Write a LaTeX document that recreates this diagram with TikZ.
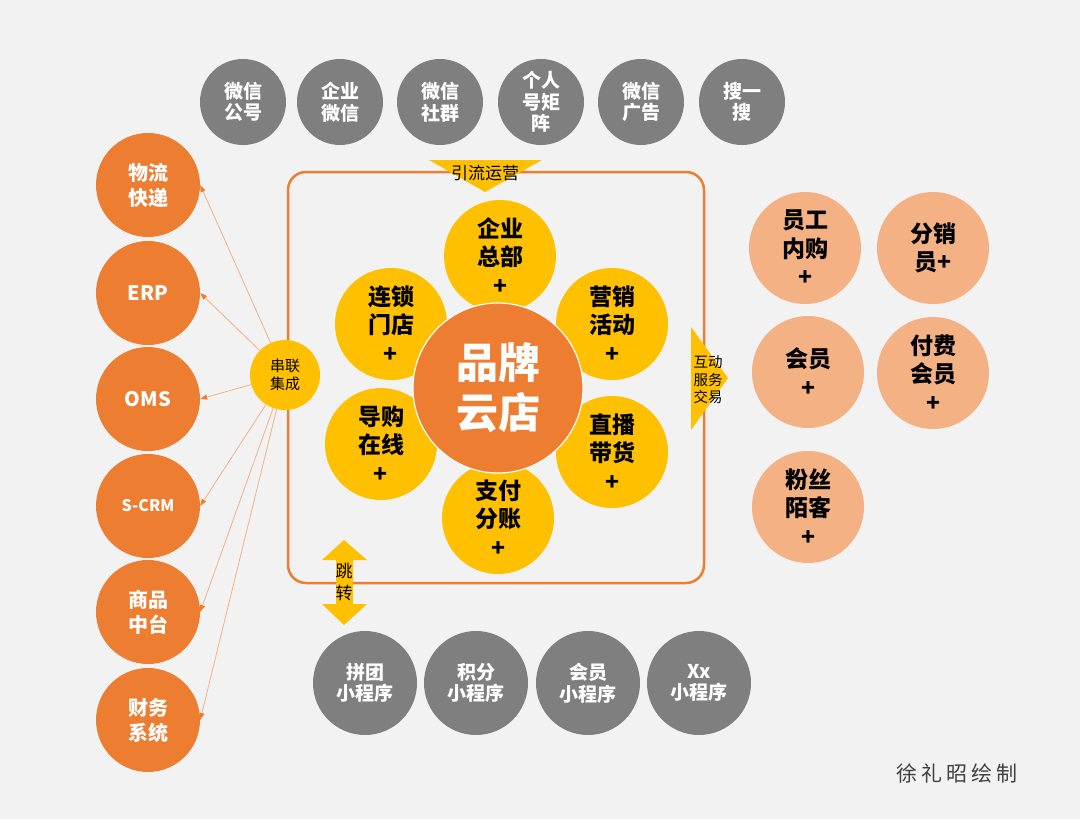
\documentclass[tikz,border=0pt]{standalone}
\usepackage{fontspec}
\setmainfont{Noto Sans CJK SC}
\usetikzlibrary{arrows.meta}
\definecolor{naranja}{HTML}{ED7D31}
\definecolor{amarillo}{HTML}{FFC000}
\definecolor{salmon}{HTML}{F4B183}
\definecolor{gris}{HTML}{7F7F7F}
\definecolor{fondo}{HTML}{F2F2F2}
\definecolor{firma}{HTML}{404040}

\begin{document}
\begin{tikzpicture}[x=1pt,y=-1pt,
    bolagris/.style={circle, fill=gris, minimum size=#1, inner sep=0pt, align=center,
      text=white, font=\fontsize{19}{21.5}\selectfont\bfseries},
    bolanaranja/.style={circle, fill=naranja, minimum size=104pt, inner sep=0pt, align=center,
      text=white, font=\fontsize{20}{25}\selectfont\bfseries},
    petalo/.style={circle, fill=amarillo, minimum size=112pt, inner sep=0pt, align=center,
      font=\fontsize{23}{28.5}\selectfont\bfseries},
    bolasalmon/.style={circle, fill=salmon, minimum size=112pt, inner sep=0pt, align=center,
      font=\fontsize{23}{28.5}\selectfont\bfseries},
    rotulo/.style={align=center, inner sep=0pt, font=\fontsize{17}{22}\selectfont},
    enlace/.style={draw=salmon, line width=0.8pt, -{Triangle[length=7pt, width=5pt, color=naranja]}}]

      % Fondo
      \useasboundingbox (0,0) rectangle (1080,819);
      \fill[fondo] (0,0) rectangle (1080,819);

      % Canales de trafico (arriba)
      \node[bolagris=86pt] (gongzhong) at (243,102) {微信\\公号};
      \node[bolagris=86pt] (qiyewx) at (340,102) {企业\\微信};
      \node[bolagris=86pt] (shequn) at (440,102) {微信\\社群};
      \node[bolagris=86pt] (juzhen) at (541,102) {个人\\号矩\\阵};
      \node[bolagris=86pt] (guanggao) at (641,102) {微信\\广告};
      \node[bolagris=86pt] (sousou) at (742,102) {搜一\\搜};

      % Marco de la tienda
      \node[draw=naranja, line width=2.5pt, rounded corners=18pt, minimum width=416pt,
        minimum height=411pt, inner sep=0pt] (marco) at (496,377.5) {};

      % Flechas amarillas
      \fill[amarillo] (429,160) -- (542,160) -- (485,192) -- cycle;
      \node[rotulo] (yinliu) at (485,173) {引流运营};
      \fill[amarillo] (691,327) -- (728,378) -- (691,430) -- cycle;
      \node[rotulo, font=\fontsize{14.5}{17.5}\selectfont] (hudong) at (708,380) {互动\\服务\\交易};
      \fill[amarillo] (344,540) -- (367,560) -- (353,560) -- (353,604) -- (367,604) -- (344,625)
        -- (322,604) -- (336,604) -- (336,560) -- (322,560) -- cycle;
      \node[rotulo] (tiaozhuan) at (344,582) {跳\\转};

      % Petalos
      \node[petalo] (zongbu) at (500,256) {企业\\总部\\+};
      \node[petalo] (yingxiao) at (612,324) {营销\\活动\\+};
      \node[petalo] (zhibo) at (612,452) {直播\\带货\\+};
      \node[petalo] (zhifu) at (498,518) {支付\\分账\\+};
      \node[petalo] (daogou) at (381,444) {导购\\在线\\+};
      \node[petalo] (liansuo) at (391,324) {连锁\\门店\\+};

      % Centro
      \node[circle, fill=naranja, draw=white, line width=1.2pt, minimum size=170pt, inner sep=0pt,
        align=center, text=white, font=\fontsize{42}{50}\selectfont\bfseries] (marca) at (498,388) {品牌\\云店};

      % Sistemas (izquierda)
      \node[bolanaranja] (wuliu) at (148,185) {物流\\快递};
      \node[bolanaranja] (erp) at (148,293) {ERP};
      \node[bolanaranja] (oms) at (148,399) {OMS};
      \node[bolanaranja, font=\fontsize{16}{20}\selectfont\bfseries] (scrm) at (148,506) {S-CRM};
      \node[bolanaranja] (shangpin) at (148,612) {商品\\中台};
      \node[bolanaranja] (caiwu) at (148,720) {财务\\系统};

      % Integracion
      \node[circle, fill=amarillo, minimum size=70pt, inner sep=0pt, align=center,
        font=\fontsize{15}{18}\selectfont] (chuanlian) at (285,375) {串联\\集成};
      \draw[enlace] (chuanlian) -- (wuliu.east);
      \draw[enlace] (chuanlian) -- (erp.east);
      \draw[enlace] (chuanlian) -- (oms.east);
      \draw[enlace] (chuanlian) -- (scrm.east);
      \draw[enlace] (chuanlian) -- (shangpin.east);
      \draw[enlace] (chuanlian) -- (caiwu.east);

      % Miembros (derecha)
      \node[bolasalmon] (yuangong) at (805,248) {员工\\内购\\+};
      \node[bolasalmon] (fenxiao) at (933,248) {分销\\员+};
      \node[bolasalmon] (huiyuan) at (808,372) {会员\\+};
      \node[bolasalmon] (fufei) at (933,373) {付费\\会员\\+};
      \node[bolasalmon] (fensi) at (808,507) {粉丝\\陌客\\+};

      % Mini programas (abajo)
      \node[bolagris=104pt] (pintuan) at (365,683) {拼团\\小程序};
      \node[bolagris=104pt] (jifen) at (476,683) {积分\\小程序};
      \node[bolagris=104pt] (huiyuanxcx) at (588,683) {会员\\小程序};
      \node[bolagris=104pt] (xxxcx) at (699,683) {Xx\\小程序};

      % Firma
      \node[text=firma, font=\fontsize{21}{24}\selectfont\addfontfeatures{LetterSpace=20}] (autor) at (957,774) {徐礼昭绘制};
    \end{tikzpicture}
\end{document}
